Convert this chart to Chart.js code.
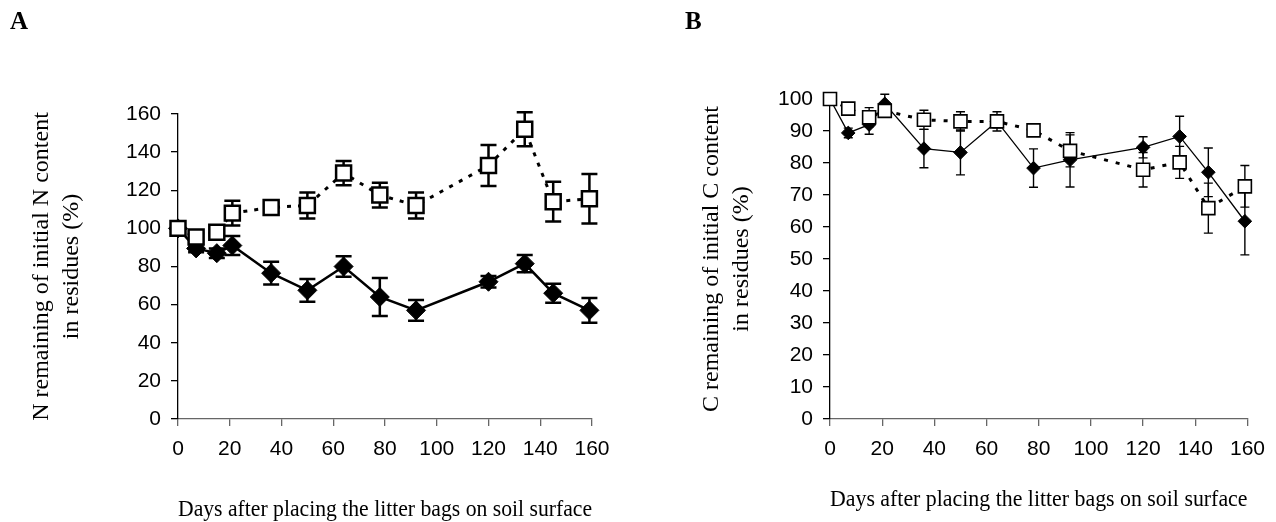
<!DOCTYPE html>
<html>
<head>
<meta charset="utf-8">
<script src="https://cdn.jsdelivr.net/npm/chart.js@4.4.1/dist/chart.umd.min.js"></script>
<style>
  body { margin: 0; background: #fff; }
  #wrapA { position: absolute; left: 0; top: 0; width: 640px; height: 522px; }
  #wrapB { position: absolute; left: 640px; top: 0; width: 636px; height: 522px; }
</style>
</head>
<body>
<div id="wrapA"><canvas id="graficoN" width="640" height="522"></canvas></div>
<div id="wrapB"><canvas id="graficoC" width="636" height="522"></canvas></div>
<script>
// Dias despues de colocar las bolsas
const dias = [0, 7, 15, 21, 36, 50, 64, 78, 92, 120, 134, 145, 159];

// Panel A: N remanente (%)
const nCuadrado = [100, 95.5, 98, 108, 111, 112, 129, 117.5, 112, 133, 152, 114, 115.5];
const nCuadradoErr = [0, 2, 2, 6.5, 2.5, 6.8, 6.4, 6.5, 6.8, 10.8, 8.9, 10.4, 13];
const nRombo = [100, 89.5, 87, 91, 76.5, 67.5, 80, 64, 57, 72, 81.5, 66, 57];
const nRomboErr = [0, 2, 2.5, 5, 6, 6, 5.4, 10, 5.4, 3, 4.5, 5, 6.5];

// Panel B: C remanente (%)
const cCuadrado = [100, 97, 94.3, 96.3, 93.5, 93, 93, 90.2, 83.8, 77.9, 80.2, 65.9, 72.7];
const cCuadradoErr = [0, 1, 3, 2, 3, 3, 3, 1.5, 5, 5.4, 5, 7.8, 6.5];
const cRombo = [100, 89.4, 92, 98.5, 84.5, 83.3, 93, 78.4, 81, 84.9, 88.3, 77.1, 61.8];
const cRomboErr = [0, 1.5, 3, 3, 6, 7, 2, 6, 8.5, 3.3, 6.3, 7.6, 10.5];

// Ticks
const ticksX = [0, 20, 40, 60, 80, 100, 120, 140, 160];

Chart.defaults.font.family = 'Liberation Sans';
Chart.defaults.color = '#000';

function puntos(valores) {
  return dias.map((d, i) => ({ x: d, y: valores[i] }));
}

// Plugin para barras de error
const barrasError = {
  id: 'barrasError',
  beforeDatasetDraw(chart, args) {
    const ds = chart.data.datasets[args.index];
    if (!ds.errores) return;
    const sx = chart.scales.x, sy = chart.scales.y;
    const ctx = chart.ctx;
    ctx.save();
    ctx.strokeStyle = '#000';
    ctx.lineWidth = ds.anchoError;
    ctx.setLineDash([]);
    ds.data.forEach((p, i) => {
      const e = ds.errores[i];
      if (!e) return;
      const px = sx.getPixelForValue(p.x);
      const arriba = sy.getPixelForValue(p.y + e);
      const abajo = sy.getPixelForValue(p.y - e);
      const c = ds.capError;
      ctx.beginPath();
      ctx.moveTo(px, arriba); ctx.lineTo(px, abajo);
      ctx.moveTo(px - c, arriba); ctx.lineTo(px + c, arriba);
      ctx.moveTo(px - c, abajo); ctx.lineTo(px + c, abajo);
      ctx.stroke();
    });
    ctx.restore();
  }
};

function crearGrafico(id, cfg) {
  return new Chart(document.getElementById(id), {
    type: 'line',
    data: {
      datasets: [
        {
          data: puntos(cfg.cuadrado),
          errores: cfg.cuadradoErr,
          anchoError: cfg.anchoError,
          capError: cfg.capError,
          borderColor: '#000',
          borderWidth: cfg.anchoPunteada,
          borderDash: cfg.guion,
          pointStyle: 'rect',
          pointRadius: cfg.radioCuadrado,
          pointBorderWidth: cfg.bordeCuadrado,
          pointBackgroundColor: '#fff',
          pointBorderColor: '#000',
          tension: 0,
          clip: false
        },
        {
          data: puntos(cfg.rombo),
          errores: cfg.romboErr,
          anchoError: cfg.anchoError,
          capError: cfg.capError,
          borderColor: '#000',
          borderWidth: cfg.anchoSolida,
          pointStyle: 'rectRot',
          pointRadius: cfg.radioRombo,
          pointBorderWidth: 1,
          pointBackgroundColor: '#000',
          pointBorderColor: '#000',
          tension: 0,
          clip: false
        }
      ]
    },
    plugins: [barrasError],
    options: {
      responsive: false,
      animation: false,
      events: [],
      layout: { padding: { left: cfg.padIzq, right: cfg.padDer, top: 0, bottom: 0 } },
      plugins: {
        legend: { display: false },
        tooltip: { enabled: false },
        title: {
          display: true,
          text: cfg.letra,
          align: 'start',
          color: '#000',
          font: { family: 'Liberation Serif', size: 25, weight: 'bold', lineHeight: 1.2 },
          padding: { top: 8, bottom: cfg.areaTop - 38 }
        }
      },
      scales: {
        x: {
          type: 'linear',
          min: 0,
          max: 160,
          afterBuildTicks: (s) => { s.ticks = ticksX.map(v => ({ value: v })); },
          afterFit: (s) => { s.height = 522 - cfg.areaBottom; },
          border: { display: true, color: '#666', width: 1.3 },
          grid: { display: true, drawOnChartArea: false, drawTicks: true, tickLength: 7, color: '#666', lineWidth: 1.3 },
          ticks: { font: { size: 21 }, padding: 11, color: '#000' },
          title: {
            display: true,
            text: 'Days after placing the litter bags on soil surface',
            color: '#000',
            font: { family: 'Liberation Serif', size: 24, lineHeight: 1 },
            padding: { top: 0, bottom: cfg.padTituloX }
          }
        },
        y: {
          min: 0,
          max: cfg.yMax,
          ticks: { stepSize: cfg.yPaso, font: { size: 21 }, padding: 10, color: '#000' },
          afterFit: (s) => { s.width = cfg.anchoY; },
          border: { display: true, color: '#000', width: 1.3 },
          grid: { display: true, drawOnChartArea: false, drawTicks: true, tickLength: 7, color: '#000', lineWidth: 1.3 },
          title: {
            display: true,
            text: cfg.tituloY,
            color: '#000',
            font: { family: 'Liberation Serif', size: 24, lineHeight: 1.25 },
            padding: { top: cfg.padTituloY, bottom: 0 }
          }
        }
      }
    }
  });
}

// Grafico A: nitrogeno
crearGrafico('graficoN', {
  letra: 'A',
  cuadrado: nCuadrado, cuadradoErr: nCuadradoErr,
  rombo: nRombo, romboErr: nRomboErr,
  yMax: 160, yPaso: 20,
  tituloY: ['N remaining of initial N content', 'in residues (%)'],
  padIzq: 10, padDer: 48, anchoY: 168,
  areaTop: 114, areaBottom: 419,
  padTituloY: 17, padTituloX: 0,
  anchoPunteada: 3, guion: [4, 7], anchoSolida: 2.5,
  radioCuadrado: 10.6, bordeCuadrado: 2.5, radioRombo: 9.5,
  anchoError: 2.5, capError: 8
});

// Grafico B: carbono
crearGrafico('graficoC', {
  letra: 'B',
  cuadrado: cCuadrado, cuadradoErr: cCuadradoErr,
  rombo: cRombo, romboErr: cRomboErr,
  yMax: 100, yPaso: 10,
  tituloY: ['C remaining of initial C content', 'in residues (%)'],
  padIzq: 45, padDer: 20, anchoY: 145,
  areaTop: 99, areaBottom: 419,
  padTituloY: 12, padTituloX: 10,
  anchoPunteada: 3, guion: [4, 8], anchoSolida: 1.3,
  radioCuadrado: 9.2, bordeCuadrado: 1.6, radioRombo: 6.8,
  anchoError: 1.4, capError: 4.5
});
</script>
</body>
</html>
